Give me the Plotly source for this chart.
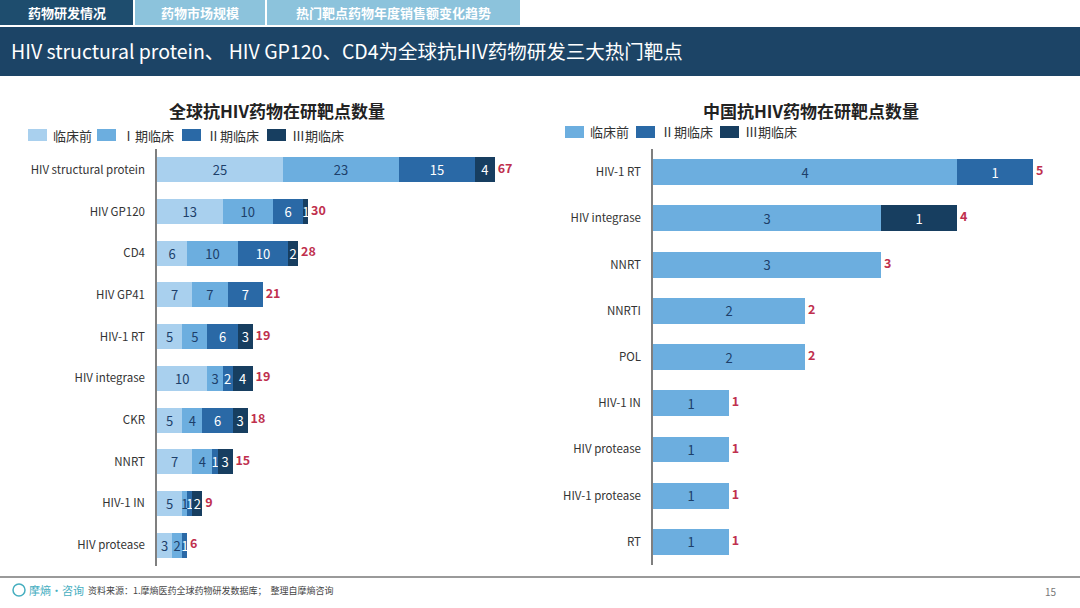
import plotly.graph_objects as go

W, H = 1080, 608
FONT = "Noto Sans CJK SC, Lato, sans-serif"

# ─────────────────────────────────────────────
# 数据
# ─────────────────────────────────────────────
PHASES_GLOBAL = ["临床前", "Ⅰ期临床", "Ⅱ期临床", "Ⅲ期临床"]
PHASES_CHINA = ["临床前", "Ⅱ期临床", "Ⅲ期临床"]

GLOBAL_TARGETS = ["HIV structural protein", "HIV GP120", "CD4", "HIV GP41", "HIV-1 RT",
                  "HIV integrase", "CKR", "NNRT", "HIV-1 IN", "HIV protease"]
GLOBAL_PRE = [25, 13, 6, 7, 5, 10, 5, 7, 5, 3]
GLOBAL_P1 = [23, 10, 10, 7, 5, 3, 4, 4, 1, 2]
GLOBAL_P2 = [15, 6, 10, 7, 6, 2, 6, 1, 1, 1]
GLOBAL_P3 = [4, 1, 2, 0, 3, 4, 3, 3, 2, 0]

CHINA_TARGETS = ["HIV-1 RT", "HIV integrase", "NNRT", "NNRTI", "POL", "HIV-1 IN",
                 "HIV protease", "HIV-1 protease", "RT"]
CHINA_PRE = [4, 3, 3, 2, 2, 1, 1, 1, 1]
CHINA_P2 = [1, 0, 0, 0, 0, 0, 0, 0, 0]
CHINA_P3 = [0, 1, 0, 0, 0, 0, 0, 0, 0]

TABS = ["药物研发情况", "药物市场规模", "热门靶点药物年度销售额变化趋势"]

# 颜色
C_PRE = "#a9d0ee"
C_P1 = "#6caedf"
C_P2 = "#2a69a6"
C_P3 = "#173e60"
C_TEXT_DARK = "#1d3f6a"
C_TOTAL = "#c0304e"
NAVY = "#1c4466"
TAB_LIGHT = "#8cc3dc"


def px(x):
    return x / W


def py(y):
    return 1 - y / H


def labels(vals):
    return [str(v) if v else "" for v in vals]


fig = go.Figure()

# ─────────────────────────────────────────────
# 全球
# ─────────────────────────────────────────────
global_series = [
    (PHASES_GLOBAL[0], GLOBAL_PRE, C_PRE, C_TEXT_DARK),
    (PHASES_GLOBAL[1], GLOBAL_P1, C_P1, C_TEXT_DARK),
    (PHASES_GLOBAL[2], GLOBAL_P2, C_P2, "white"),
    (PHASES_GLOBAL[3], GLOBAL_P3, C_P3, "white"),
]
for name, vals, color, tcolor in global_series:
    fig.add_trace(go.Bar(
        y=GLOBAL_TARGETS, x=vals, orientation="h", name=name,
        marker=dict(color=color, line=dict(width=0)),
        width=0.6,
        text=labels(vals), textposition="inside", insidetextanchor="middle",
        constraintext="none", textangle=0,
        textfont=dict(size=13, color=tcolor, family=FONT),
        xaxis="x", yaxis="y", cliponaxis=False, showlegend=False,
        hoverinfo="skip",
    ))

global_totals = [a + b + c + d for a, b, c, d in zip(GLOBAL_PRE, GLOBAL_P1, GLOBAL_P2, GLOBAL_P3)]
fig.add_trace(go.Scatter(
    y=GLOBAL_TARGETS, x=global_totals, mode="text",
    text=[f"\u00a0<b>{t}</b>" for t in global_totals], textposition="middle right",
    textfont=dict(size=12.5, color=C_TOTAL, family=FONT),
    xaxis="x", yaxis="y", showlegend=False, cliponaxis=False, hoverinfo="skip",
))

# ─────────────────────────────────────────────
# 中国
# ─────────────────────────────────────────────
china_series = [
    (PHASES_CHINA[0], CHINA_PRE, C_P1, C_TEXT_DARK),
    (PHASES_CHINA[1], CHINA_P2, C_P2, "white"),
    (PHASES_CHINA[2], CHINA_P3, C_P3, "white"),
]
for name, vals, color, tcolor in china_series:
    fig.add_trace(go.Bar(
        y=CHINA_TARGETS, x=vals, orientation="h", name=name,
        marker=dict(color=color, line=dict(width=0)),
        width=0.56,
        text=labels(vals), textposition="inside", insidetextanchor="middle",
        constraintext="none", textangle=0,
        textfont=dict(size=13, color=tcolor, family=FONT),
        xaxis="x2", yaxis="y2", cliponaxis=False, showlegend=False,
        hoverinfo="skip",
    ))

china_totals = [a + b + c for a, b, c in zip(CHINA_PRE, CHINA_P2, CHINA_P3)]
fig.add_trace(go.Scatter(
    y=CHINA_TARGETS, x=china_totals, mode="text",
    text=[f"\u00a0<b>{t}</b>" for t in china_totals], textposition="middle right",
    textfont=dict(size=12.5, color=C_TOTAL, family=FONT),
    xaxis="x2", yaxis="y2", showlegend=False, cliponaxis=False, hoverinfo="skip",
))

# ─────────────────────────────────────────────
# 页面元素
# ─────────────────────────────────────────────
shapes = []
annotations = []


def add_text(text, x, y, size, color, xanchor="center", yanchor="middle"):
    annotations.append(dict(text=text, x=px(x), y=py(y), xref="paper", yref="paper",
                            xanchor=xanchor, yanchor=yanchor, showarrow=False,
                            font=dict(size=size, color=color, family=FONT)))


def add_rect(x0, x1, y0, y1, color):
    shapes.append(dict(type="rect", xref="paper", yref="paper",
                       x0=px(x0), x1=px(x1), y0=py(y1), y1=py(y0),
                       fillcolor=color, line=dict(width=0), layer="below"))


# 标签页
tab_edges = [(0, 133), (135, 265), (267, 520)]
for i, ((x0, x1), label) in enumerate(zip(tab_edges, TABS)):
    add_rect(x0, x1, 0, 25, "#1e4d6e" if i == 0 else TAB_LIGHT)
    add_text(f"<b>{label}</b>", (x0 + x1) / 2, 12.5, 13, "white")

# 标题栏
add_rect(0, W, 27, 76, NAVY)
add_text("HIV structural protein、 HIV GP120、CD4为全球抗HIV药物研发三大热门靶点",
         9, 51, 19.5, "white", xanchor="left")

# 图表标题
add_text("<b>全球抗HIV药物在研靶点数量</b>", 277, 110, 17, "#222222")
add_text("<b>中国抗HIV药物在研靶点数量</b>", 811, 110, 17, "#222222")

# 图例
legend_left = [(28, C_PRE), (97, C_P1), (182, C_P2), (267, C_P3)]
for (x0, color), name in zip(legend_left, PHASES_GLOBAL):
    add_rect(x0, x0 + 19, 129, 141, color)
    add_text(name, x0 + 23, 135, 13, "#333333", xanchor="left")

legend_right = [(565, C_P1), (636, C_P2), (720, C_P3)]
for (x0, color), name in zip(legend_right, PHASES_CHINA):
    add_rect(x0, x0 + 19, 126, 138, color)
    add_text(name, x0 + 23, 132, 13, "#333333", xanchor="left")

# 页脚
shapes.append(dict(type="line", xref="paper", yref="paper",
                   x0=0, x1=1, y0=py(577), y1=py(577),
                   line=dict(color="#9a9a9a", width=2)))
shapes.append(dict(type="circle", xref="paper", yref="paper",
                   x0=px(13), x1=px(25), y0=py(596), y1=py(584),
                   line=dict(color="#45aebf", width=1.5)))
add_text("摩熵·咨询", 27, 590, 11, "#45aebf", xanchor="left")
add_text("资料来源：1.摩熵医药全球药物研发数据库；  整理自摩熵咨询", 86, 590, 9, "#444444",
         xanchor="left")
add_text("15", 1051, 591, 10, "#777777")

fig.update_layout(
    width=W, height=H,
    margin=dict(l=0, r=0, t=0, b=0),
    paper_bgcolor="white", plot_bgcolor="white",
    barmode="stack",
    font=dict(family=FONT, color="#333333"),
    showlegend=False,
    xaxis=dict(domain=[px(157), px(510)], range=[0, 70], visible=False, fixedrange=True),
    yaxis=dict(domain=[py(566), py(149)], anchor="x", categoryorder="array",
               categoryarray=GLOBAL_TARGETS, autorange="reversed",
               showline=True, linecolor="#7f7f7f", linewidth=1.5, showgrid=False,
               ticks="", ticklabelstandoff=8, fixedrange=True,
               tickfont=dict(size=11.5, color="#333333", family=FONT)),
    xaxis2=dict(domain=[px(653), px(1056)], range=[0, 5.3], visible=False, fixedrange=True,
                anchor="y2"),
    yaxis2=dict(domain=[py(565), py(149)], anchor="x2", categoryorder="array",
                categoryarray=CHINA_TARGETS, autorange="reversed",
                showline=True, linecolor="#7f7f7f", linewidth=1.5, showgrid=False,
                ticks="", ticklabelstandoff=8, fixedrange=True,
                tickfont=dict(size=11.5, color="#333333", family=FONT)),
    shapes=shapes,
    annotations=annotations,
)

# 去掉浏览器默认的 body 边距，隐藏工具栏
fig.write_html("out.html", config={"displayModeBar": False},
               post_script="document.body.style.margin='0px';")
